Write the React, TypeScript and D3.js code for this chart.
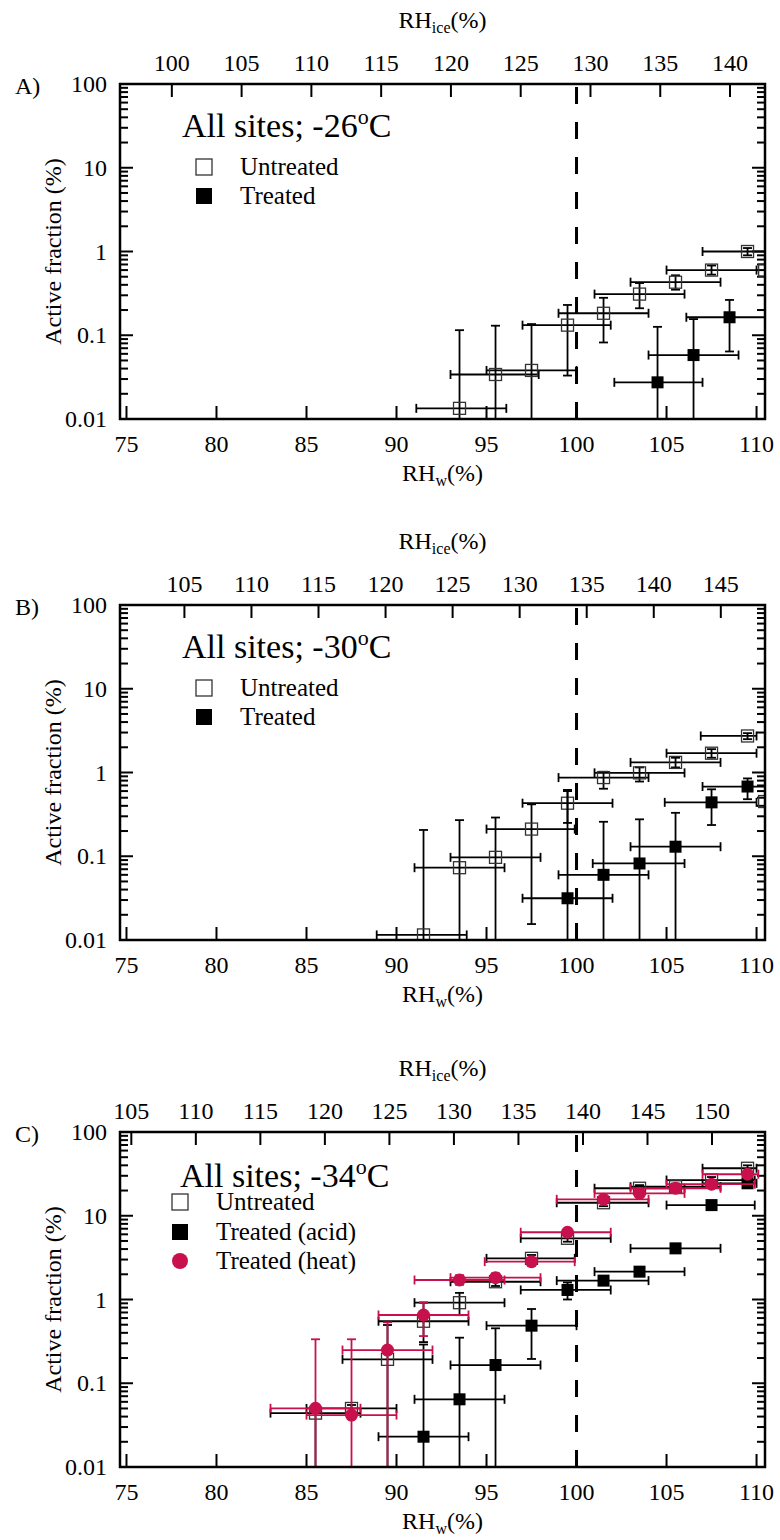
import React from "react";
import * as d3 from "d3";

type Pt = { x: number; xl: number; xh: number; y: number; yl: number; yh: number };

// ---------- shared axis data ----------
const rhwDomain: [number, number] = [74.64, 110.47];
const rhwTicks = [75, 80, 85, 90, 95, 100, 105, 110];
const fracTicks = [0.01, 0.1, 1, 10, 100];
const fracTickLabels = ["0.01", "0.1", "1", "10", "100"];
const panelLabels = ["A)", "B)", "C)"];
const panelTemps = ["-26", "-30", "-34"];
// RH_ice / RH_w ratio at each temperature (sets the top axis)
const iceRatios = [1.29, 1.3424, 1.395];
const iceTicksA = [100, 105, 110, 115, 120, 125, 130, 135, 140];
const iceTicksB = [105, 110, 115, 120, 125, 130, 135, 140, 145];
const iceTicksC = [105, 110, 115, 120, 125, 130, 135, 140, 145, 150];

// ---------- Panel A (-26 C) ----------
const aUntreated: Pt[] = [
  { x: 93.5, xl: 91.1, xh: 96.1, y: 0.0134, yl: 0.001, yh: 0.115 },
  { x: 95.5, xl: 93.0, xh: 97.9, y: 0.034, yl: 0.001, yh: 0.13 },
  { x: 97.5, xl: 95.0, xh: 100.0, y: 0.038, yl: 0.001, yh: 0.136 },
  { x: 99.5, xl: 97.0, xh: 101.9, y: 0.132, yl: 0.033, yh: 0.23 },
  { x: 101.5, xl: 99.0, xh: 104.0, y: 0.183, yl: 0.082, yh: 0.28 },
  { x: 103.5, xl: 101.0, xh: 106.0, y: 0.31, yl: 0.21, yh: 0.42 },
  { x: 105.5, xl: 103.0, xh: 108.0, y: 0.43, yl: 0.35, yh: 0.52 },
  { x: 107.5, xl: 105.0, xh: 110.0, y: 0.6, yl: 0.53, yh: 0.68 },
  { x: 109.5, xl: 107.0, xh: 112.0, y: 1.0, yl: 0.9, yh: 1.1 },
  { x: 110.45, xl: 110.45, xh: 110.45, y: 0.6, yl: 0.6, yh: 0.6 },
];
const aTreated: Pt[] = [
  { x: 104.5, xl: 102.1, xh: 107.0, y: 0.0274, yl: 0.001, yh: 0.126 },
  { x: 106.5, xl: 104.0, xh: 109.0, y: 0.058, yl: 0.001, yh: 0.156 },
  { x: 108.5, xl: 106.1, xh: 111.0, y: 0.164, yl: 0.064, yh: 0.264 },
];

// ---------- Panel B (-30 C) ----------
const bUntreated: Pt[] = [
  { x: 91.5, xl: 88.9, xh: 93.9, y: 0.0115, yl: 0.001, yh: 0.206 },
  { x: 93.5, xl: 91.0, xh: 96.0, y: 0.073, yl: 0.001, yh: 0.27 },
  { x: 95.5, xl: 93.0, xh: 98.0, y: 0.097, yl: 0.001, yh: 0.29 },
  { x: 97.5, xl: 95.0, xh: 99.9, y: 0.211, yl: 0.0155, yh: 0.417 },
  { x: 99.5, xl: 97.0, xh: 102.0, y: 0.43, yl: 0.25, yh: 0.62 },
  { x: 101.5, xl: 99.0, xh: 104.0, y: 0.87, yl: 0.64, yh: 1.02 },
  { x: 103.5, xl: 101.0, xh: 106.0, y: 0.99, yl: 0.78, yh: 1.15 },
  { x: 105.5, xl: 103.0, xh: 108.0, y: 1.32, yl: 1.15, yh: 1.5 },
  { x: 107.5, xl: 105.0, xh: 110.0, y: 1.7, yl: 1.5, yh: 1.9 },
  { x: 109.5, xl: 106.9, xh: 110.0, y: 2.73, yl: 2.5, yh: 2.95 },
  { x: 110.45, xl: 110.45, xh: 110.45, y: 0.45, yl: 0.45, yh: 0.45 },
];
const bTreated: Pt[] = [
  { x: 99.5, xl: 97.0, xh: 102.0, y: 0.0315, yl: 0.001, yh: 0.6 },
  { x: 101.5, xl: 99.0, xh: 104.0, y: 0.06, yl: 0.001, yh: 0.258 },
  { x: 103.5, xl: 100.9, xh: 106.0, y: 0.082, yl: 0.001, yh: 0.276 },
  { x: 105.5, xl: 103.0, xh: 108.0, y: 0.13, yl: 0.001, yh: 0.33 },
  { x: 107.5, xl: 104.9, xh: 110.0, y: 0.44, yl: 0.236, yh: 0.63 },
  { x: 109.5, xl: 107.0, xh: 111.0, y: 0.68, yl: 0.48, yh: 0.85 },
];

// ---------- Panel C (-34 C) ----------
const cUntreated: Pt[] = [
  { x: 85.5, xl: 83.0, xh: 88.0, y: 0.044, yl: 0.001, yh: 0.05 },
  { x: 87.5, xl: 85.0, xh: 90.0, y: 0.05, yl: 0.045, yh: 0.055 },
  { x: 89.5, xl: 87.0, xh: 92.0, y: 0.193, yl: 0.001, yh: 0.496 },
  { x: 91.5, xl: 89.0, xh: 94.0, y: 0.55, yl: 0.31, yh: 0.92 },
  { x: 93.5, xl: 91.0, xh: 96.0, y: 0.916, yl: 0.65, yh: 1.2 },
  { x: 95.5, xl: 93.0, xh: 98.0, y: 1.63, yl: 1.45, yh: 1.85 },
  { x: 97.5, xl: 95.0, xh: 99.9, y: 3.1, yl: 2.8, yh: 3.4 },
  { x: 99.5, xl: 96.9, xh: 101.9, y: 5.38, yl: 4.9, yh: 5.9 },
  { x: 101.5, xl: 98.9, xh: 104.0, y: 14.3, yl: 13.0, yh: 15.8 },
  { x: 103.5, xl: 101.0, xh: 106.0, y: 21.3, yl: 19.5, yh: 23.2 },
  { x: 105.5, xl: 103.0, xh: 108.0, y: 22.2, yl: 20.3, yh: 24.2 },
  { x: 107.5, xl: 105.0, xh: 109.9, y: 26.7, yl: 24.5, yh: 29.0 },
  { x: 109.5, xl: 107.0, xh: 110.0, y: 36.9, yl: 34.0, yh: 40.0 },
];
const cAcid: Pt[] = [
  { x: 91.5, xl: 89.0, xh: 94.0, y: 0.023, yl: 0.001, yh: 0.29 },
  { x: 93.5, xl: 91.0, xh: 96.0, y: 0.0643, yl: 0.001, yh: 0.35 },
  { x: 95.5, xl: 93.0, xh: 98.0, y: 0.165, yl: 0.001, yh: 0.453 },
  { x: 97.5, xl: 95.0, xh: 100.0, y: 0.487, yl: 0.195, yh: 0.77 },
  { x: 99.5, xl: 96.9, xh: 101.9, y: 1.3, yl: 1.0, yh: 1.6 },
  { x: 101.5, xl: 98.9, xh: 104.0, y: 1.68, yl: 1.5, yh: 1.9 },
  { x: 103.5, xl: 101.0, xh: 106.0, y: 2.15, yl: 1.95, yh: 2.4 },
  { x: 105.5, xl: 103.0, xh: 108.0, y: 4.08, yl: 3.7, yh: 4.5 },
  { x: 107.5, xl: 105.0, xh: 109.9, y: 13.4, yl: 12.2, yh: 14.7 },
  { x: 109.5, xl: 107.0, xh: 110.0, y: 24.4, yl: 22.2, yh: 26.8 },
];
const cHeat: Pt[] = [
  { x: 85.5, xl: 83.0, xh: 88.0, y: 0.0502, yl: 0.001, yh: 0.335 },
  { x: 87.5, xl: 85.0, xh: 90.0, y: 0.0417, yl: 0.001, yh: 0.335 },
  { x: 89.5, xl: 87.0, xh: 92.0, y: 0.249, yl: 0.001, yh: 0.534 },
  { x: 91.5, xl: 89.0, xh: 94.0, y: 0.653, yl: 0.366, yh: 0.916 },
  { x: 93.5, xl: 91.0, xh: 96.0, y: 1.71, yl: 1.5, yh: 1.95 },
  { x: 95.5, xl: 93.0, xh: 98.0, y: 1.82, yl: 1.62, yh: 2.05 },
  { x: 97.5, xl: 94.9, xh: 99.9, y: 2.83, yl: 2.55, yh: 3.1 },
  { x: 99.5, xl: 96.9, xh: 101.9, y: 6.35, yl: 5.8, yh: 6.9 },
  { x: 101.5, xl: 98.9, xh: 104.0, y: 15.7, yl: 14.4, yh: 17.1 },
  { x: 103.5, xl: 101.0, xh: 106.0, y: 18.5, yl: 17.0, yh: 20.1 },
  { x: 105.5, xl: 103.0, xh: 108.0, y: 21.3, yl: 19.6, yh: 23.2 },
  { x: 107.5, xl: 105.0, xh: 109.9, y: 23.8, yl: 21.9, yh: 25.9 },
  { x: 109.5, xl: 107.0, xh: 110.1, y: 31.3, yl: 28.8, yh: 34.0 },
];

const legendA = ["Untreated", "Treated"];
const legendC = ["Untreated", "Treated (acid)", "Treated (heat)"];

// ---------- styling ----------
const FONT = "'Liberation Serif', 'Times New Roman', serif";
const RED = "#c8104c";
const X0 = 120;
const X1 = 765;
const PH = 335;
const panelTops = [84, 605, 1132];

type Kind = "open" | "filled" | "circle";
interface Series { data: Pt[]; kind: Kind; color: string }
interface Legend { titleX: number; titleDy: number; symX: number; textX: number; rows: number[]; labels: string[]; kinds: Kind[] }

function Marker({ kind, cx, cy, size, color }: { kind: Kind; cx: number; cy: number; size: number; color: string }) {
  if (kind === "circle") return <circle cx={cx} cy={cy} r={size / 2} fill={color} />;
  if (kind === "filled") return <rect x={cx - size / 2} y={cy - size / 2} width={size} height={size} fill={color} />;
  return <rect x={cx - size / 2} y={cy - size / 2} width={size} height={size} fill="none" stroke="#333" strokeWidth={1.3} />;
}

function Panel({ idx, iceTicks, series, legend }: { idx: number; iceTicks: number[]; series: Series[]; legend: Legend }) {
  const top = panelTops[idx];
  const bottom = top + PH;
  const ratio = iceRatios[idx];
  const x = d3.scaleLinear().domain(rhwDomain).range([X0, X1]);
  const xi = d3.scaleLinear().domain([rhwDomain[0] * ratio, rhwDomain[1] * ratio]).range([X0, X1]);
  const y = d3.scaleLog().domain([0.01, 100]).range([bottom, top]);
  const minor: number[] = [];
  [0.01, 0.1, 1, 10].forEach((d) => { for (let k = 2; k <= 9; k++) minor.push(d * k); });
  const clipId = `clip${idx}`;
  const cap = 4.5;
  const midY = (top + bottom) / 2;
  const midX = (X0 + X1) / 2;

  return (
    <g fontFamily={FONT} fill="#000">
      <defs>
        <clipPath id={clipId}>
          <rect x={X0} y={top} width={X1 - X0} height={PH} />
        </clipPath>
      </defs>
      {/* panel label */}
      <text x={15} y={top + 10} fontSize={24}>{panelLabels[idx]}</text>
      {/* left tick labels */}
      {fracTicks.map((t, i) => (
        <text key={t} x={107} y={y(t) + 8} fontSize={24} textAnchor="end">{fracTickLabels[i]}</text>
      ))}
      {/* y title */}
      <text transform={`translate(61,${midY}) rotate(-90)`} fontSize={24} textAnchor="middle">Active fraction (%)</text>
      {/* bottom tick labels */}
      {rhwTicks.map((t) => (
        <text key={t} x={x(t)} y={bottom + 33} fontSize={24} textAnchor="middle">{t}</text>
      ))}
      <text x={midX} y={bottom + 62} fontSize={24} textAnchor="middle">
        RH<tspan fontSize={16} dy={5}>w</tspan><tspan dy={-5}>(%)</tspan>
      </text>
      {/* top tick labels */}
      {iceTicks.map((t) => (
        <text key={t} x={xi(t)} y={top - 13} fontSize={24} textAnchor="middle">{t}</text>
      ))}
      <text x={midX} y={top - 56} fontSize={24} textAnchor="middle">
        RH<tspan fontSize={16} dy={5}>ice</tspan><tspan dy={-5}>(%)</tspan>
      </text>

      {/* ticks */}
      <g stroke="#000" strokeWidth={2}>
        {fracTicks.map((t) => (
          <g key={"M" + t}>
            <line x1={X0} x2={X0 + 13} y1={y(t)} y2={y(t)} />
            <line x1={X1} x2={X1 - 13} y1={y(t)} y2={y(t)} />
          </g>
        ))}
        {minor.map((t) => (
          <g key={"m" + t}>
            <line x1={X0} x2={X0 + 8} y1={y(t)} y2={y(t)} />
            <line x1={X1} x2={X1 - 8} y1={y(t)} y2={y(t)} />
          </g>
        ))}
        {rhwTicks.map((t) => (
          <line key={"b" + t} x1={x(t)} x2={x(t)} y1={bottom} y2={bottom - 13} />
        ))}
        {iceTicks.map((t) => (
          <line key={"t" + t} x1={xi(t)} x2={xi(t)} y1={top} y2={top + 13} />
        ))}
      </g>

      {/* dashed RHw = 100 line */}
      <line x1={x(100)} x2={x(100)} y1={bottom} y2={top} stroke="#000" strokeWidth={3} strokeDasharray="17,18" />

      {/* data */}
      <g clipPath={`url(#${clipId})`}>
        {series.map((s, si) => (
          <g key={si}>
            <g stroke={s.kind === "circle" ? s.color : "#000"} strokeWidth={1.8} fill="none">
              {s.data.filter((p) => p.xh > p.xl || p.yh > p.yl).map((p, i) => {
                const px = x(p.x), py = y(p.y);
                return (
                  <g key={i}>
                    <line x1={x(p.xl)} x2={x(p.xh)} y1={py} y2={py} />
                    <line x1={x(p.xl)} x2={x(p.xl)} y1={py - cap} y2={py + cap} />
                    <line x1={x(p.xh)} x2={x(p.xh)} y1={py - cap} y2={py + cap} />
                    <line x1={px} x2={px} y1={y(p.yl)} y2={y(p.yh)} />
                    <line x1={px - cap} x2={px + cap} y1={y(p.yl)} y2={y(p.yl)} />
                    <line x1={px - cap} x2={px + cap} y1={y(p.yh)} y2={y(p.yh)} />
                  </g>
                );
              })}
            </g>
            {s.data.map((p, i) => (
              <Marker key={i} kind={s.kind} cx={x(p.x)} cy={y(p.y)} size={s.kind === "circle" ? 13 : 12} color={s.color} />
            ))}
          </g>
        ))}
      </g>

      {/* frame */}
      <rect x={X0} y={top} width={X1 - X0} height={PH} fill="none" stroke="#000" strokeWidth={2.5} />

      {/* legend */}
      <text x={legend.titleX} y={top + legend.titleDy} fontSize={34}>
        All sites; {panelTemps[idx]}<tspan fontSize={22} dy={-13}>o</tspan><tspan dy={13}>C</tspan>
      </text>
      {legend.labels.map((lab, i) => (
        <g key={lab}>
          <Marker kind={legend.kinds[i]} cx={legend.symX} cy={top + legend.rows[i]} size={16} color={legend.kinds[i] === "circle" ? RED : "#000"} />
          <text x={legend.textX} y={top + legend.rows[i] + 8} fontSize={25}>{lab}</text>
        </g>
      ))}
    </g>
  );
}

export default function App() {
  const legAB: Legend = { titleX: 182, titleDy: 53, symX: 204, textX: 240, rows: [83, 112], labels: legendA, kinds: ["open", "filled"] };
  const legC: Legend = { titleX: 180, titleDy: 55, symX: 180, textX: 216, rows: [70, 100, 129], labels: legendC, kinds: ["open", "filled", "circle"] };
  return (
    <svg width={780} height={1540} style={{ position: "absolute", left: 0, top: 0, background: "#fff" }}>
      <rect width={780} height={1540} fill="#fff" />
      <Panel idx={0} iceTicks={iceTicksA} legend={legAB}
        series={[{ data: aUntreated, kind: "open", color: "#000" }, { data: aTreated, kind: "filled", color: "#000" }]} />
      <Panel idx={1} iceTicks={iceTicksB} legend={legAB}
        series={[{ data: bUntreated, kind: "open", color: "#000" }, { data: bTreated, kind: "filled", color: "#000" }]} />
      <Panel idx={2} iceTicks={iceTicksC} legend={legC}
        series={[{ data: cUntreated, kind: "open", color: "#000" }, { data: cAcid, kind: "filled", color: "#000" }, { data: cHeat, kind: "circle", color: RED }]} />
    </svg>
  );
}
